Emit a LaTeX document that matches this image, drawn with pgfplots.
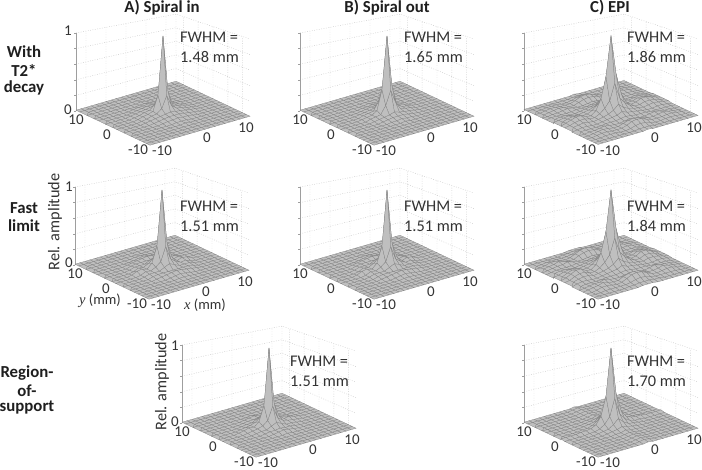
\documentclass[border=0pt]{standalone}
\usepackage{pgfplots}
\usepackage{pgfplotstable}
\pgfplotsset{compat=1.18}
\usepackage{fontspec}
\setmainfont{Carlito}
\newfontfamily\serifit{Liberation Serif}
\definecolor{txt}{gray}{0.2}
\definecolor{bld}{gray}{0.12}
\definecolor{face}{gray}{0.75}
\definecolor{edge}{gray}{0.5}
\definecolor{wall}{gray}{0.78}
\definecolor{zax}{gray}{0.62}
\newcommand\addxy[1]{%
 \pgfplotstablecreatecol[create col/expr={mod(\pgfplotstablerow,21)-10}]{xc}#1%
 \pgfplotstablecreatecol[create col/expr={floor(\pgfplotstablerow/21)-10}]{yc}#1%
}
% z values in percent of the peak, one value per grid node: x = -10..10 within y = -10..10
\pgfplotstableread[row sep=\\,header=false]{
1\\1\\1\\1\\1\\1\\1\\1\\1\\1\\1\\1\\1\\1\\1\\1\\1\\1\\1\\1\\1\\
1\\1\\1\\1\\1\\1\\1\\1\\1\\1\\1\\1\\1\\1\\1\\1\\1\\1\\1\\1\\1\\
1\\1\\1\\1\\1\\1\\1\\1\\1\\1\\1\\1\\1\\1\\1\\1\\1\\1\\1\\1\\1\\
1\\1\\1\\1\\1\\1\\1\\1\\1\\1\\1\\1\\1\\1\\1\\1\\1\\1\\1\\1\\1\\
1\\1\\1\\1\\1\\1\\1\\1\\1\\1\\2\\1\\1\\1\\1\\1\\1\\1\\1\\1\\1\\
1\\1\\1\\1\\1\\1\\1\\1\\1\\2\\2\\2\\1\\1\\1\\1\\1\\1\\1\\1\\1\\
1\\1\\1\\1\\1\\1\\1\\2\\3\\3\\4\\3\\3\\2\\1\\1\\1\\1\\1\\1\\1\\
1\\1\\1\\1\\1\\1\\2\\3\\4\\5\\5\\5\\4\\3\\2\\1\\1\\1\\1\\1\\1\\
1\\1\\1\\1\\1\\2\\3\\4\\5\\6\\7\\6\\5\\4\\3\\2\\1\\1\\1\\1\\1\\
1\\1\\1\\1\\1\\2\\3\\5\\6\\11\\26\\11\\6\\5\\3\\2\\1\\1\\1\\1\\1\\
1\\1\\1\\1\\1\\2\\4\\5\\7\\26\\100\\26\\7\\5\\4\\2\\1\\1\\1\\1\\1\\
1\\1\\1\\1\\1\\2\\3\\5\\6\\11\\26\\11\\6\\5\\3\\2\\1\\1\\1\\1\\1\\
1\\1\\1\\1\\1\\2\\3\\4\\5\\6\\7\\6\\5\\4\\3\\2\\1\\1\\1\\1\\1\\
1\\1\\1\\1\\1\\1\\2\\3\\4\\5\\5\\5\\4\\3\\2\\1\\1\\1\\1\\1\\1\\
1\\1\\1\\1\\1\\1\\1\\2\\3\\3\\4\\3\\3\\2\\1\\1\\1\\1\\1\\1\\1\\
1\\1\\1\\1\\1\\1\\1\\1\\1\\2\\2\\2\\1\\1\\1\\1\\1\\1\\1\\1\\1\\
1\\1\\1\\1\\1\\1\\1\\1\\1\\1\\2\\1\\1\\1\\1\\1\\1\\1\\1\\1\\1\\
1\\1\\1\\1\\1\\1\\1\\1\\1\\1\\1\\1\\1\\1\\1\\1\\1\\1\\1\\1\\1\\
1\\1\\1\\1\\1\\1\\1\\1\\1\\1\\1\\1\\1\\1\\1\\1\\1\\1\\1\\1\\1\\
1\\1\\1\\1\\1\\1\\1\\1\\1\\1\\1\\1\\1\\1\\1\\1\\1\\1\\1\\1\\1\\
1\\1\\1\\1\\1\\1\\1\\1\\1\\1\\1\\1\\1\\1\\1\\1\\1\\1\\1\\1\\1\\
}\tabSa
\pgfplotstableread[row sep=\\,header=false]{
1\\1\\1\\1\\1\\1\\1\\1\\1\\1\\1\\1\\1\\1\\1\\1\\1\\1\\1\\1\\1\\
1\\1\\1\\1\\1\\1\\1\\1\\1\\1\\1\\1\\1\\1\\1\\1\\1\\1\\1\\1\\1\\
1\\1\\1\\1\\1\\1\\1\\1\\1\\1\\1\\1\\1\\1\\1\\1\\1\\1\\1\\1\\1\\
1\\1\\1\\1\\1\\1\\1\\1\\1\\1\\1\\1\\1\\1\\1\\1\\1\\1\\1\\1\\1\\
1\\1\\1\\1\\1\\1\\1\\1\\1\\1\\1\\1\\1\\1\\1\\1\\1\\1\\1\\1\\1\\
1\\1\\1\\1\\1\\1\\1\\1\\1\\1\\2\\1\\1\\1\\1\\1\\1\\1\\1\\1\\1\\
1\\1\\1\\1\\1\\1\\1\\1\\2\\2\\3\\2\\2\\1\\1\\1\\1\\1\\1\\1\\1\\
1\\1\\1\\1\\1\\1\\1\\2\\3\\4\\4\\4\\3\\2\\1\\1\\1\\1\\1\\1\\1\\
1\\1\\1\\1\\1\\1\\2\\3\\4\\5\\7\\5\\4\\3\\2\\1\\1\\1\\1\\1\\1\\
1\\1\\1\\1\\1\\1\\3\\4\\5\\15\\33\\15\\5\\4\\3\\1\\1\\1\\1\\1\\1\\
1\\1\\1\\1\\1\\2\\3\\4\\8\\33\\100\\33\\8\\4\\3\\2\\1\\1\\1\\1\\1\\
1\\1\\1\\1\\1\\1\\3\\4\\5\\15\\33\\15\\5\\4\\3\\1\\1\\1\\1\\1\\1\\
1\\1\\1\\1\\1\\1\\2\\3\\4\\5\\7\\5\\4\\3\\2\\1\\1\\1\\1\\1\\1\\
1\\1\\1\\1\\1\\1\\1\\2\\3\\4\\4\\4\\3\\2\\1\\1\\1\\1\\1\\1\\1\\
1\\1\\1\\1\\1\\1\\1\\1\\2\\2\\3\\2\\2\\1\\1\\1\\1\\1\\1\\1\\1\\
1\\1\\1\\1\\1\\1\\1\\1\\1\\1\\2\\1\\1\\1\\1\\1\\1\\1\\1\\1\\1\\
1\\1\\1\\1\\1\\1\\1\\1\\1\\1\\1\\1\\1\\1\\1\\1\\1\\1\\1\\1\\1\\
1\\1\\1\\1\\1\\1\\1\\1\\1\\1\\1\\1\\1\\1\\1\\1\\1\\1\\1\\1\\1\\
1\\1\\1\\1\\1\\1\\1\\1\\1\\1\\1\\1\\1\\1\\1\\1\\1\\1\\1\\1\\1\\
1\\1\\1\\1\\1\\1\\1\\1\\1\\1\\1\\1\\1\\1\\1\\1\\1\\1\\1\\1\\1\\
1\\1\\1\\1\\1\\1\\1\\1\\1\\1\\1\\1\\1\\1\\1\\1\\1\\1\\1\\1\\1\\
}\tabSb
\pgfplotstableread[row sep=\\,header=false]{
1\\1\\1\\1\\1\\1\\1\\1\\1\\1\\1\\1\\1\\1\\1\\1\\1\\1\\1\\1\\1\\
1\\1\\1\\1\\1\\1\\1\\1\\1\\1\\1\\1\\1\\1\\1\\1\\1\\1\\1\\1\\1\\
1\\1\\1\\1\\1\\1\\1\\1\\1\\1\\1\\1\\1\\1\\1\\1\\1\\1\\1\\1\\1\\
1\\1\\1\\1\\1\\1\\1\\1\\1\\1\\1\\1\\1\\1\\1\\1\\1\\1\\1\\1\\1\\
1\\1\\1\\1\\1\\1\\1\\1\\1\\2\\2\\2\\1\\1\\1\\1\\1\\1\\1\\1\\1\\
1\\1\\1\\1\\1\\1\\1\\1\\2\\3\\4\\3\\2\\1\\1\\1\\1\\1\\1\\1\\1\\
1\\1\\1\\1\\1\\1\\2\\3\\4\\5\\6\\5\\4\\3\\2\\1\\1\\1\\1\\1\\1\\
1\\1\\1\\1\\1\\1\\3\\4\\4\\4\\4\\4\\4\\4\\3\\1\\1\\1\\1\\1\\1\\
1\\1\\1\\1\\1\\2\\4\\4\\4\\7\\10\\7\\4\\4\\4\\2\\1\\1\\1\\1\\1\\
1\\1\\1\\1\\1\\2\\5\\4\\7\\12\\30\\12\\7\\4\\5\\2\\1\\1\\1\\1\\1\\
1\\1\\1\\1\\2\\5\\6\\4\\10\\30\\100\\30\\10\\4\\6\\5\\2\\1\\1\\1\\1\\
1\\1\\1\\1\\1\\2\\5\\4\\7\\12\\30\\12\\7\\4\\5\\2\\1\\1\\1\\1\\1\\
1\\1\\1\\1\\1\\2\\4\\4\\4\\7\\10\\7\\4\\4\\4\\2\\1\\1\\1\\1\\1\\
1\\1\\1\\1\\1\\1\\3\\4\\4\\4\\4\\4\\4\\4\\3\\1\\1\\1\\1\\1\\1\\
1\\1\\1\\1\\1\\1\\2\\3\\4\\5\\6\\5\\4\\3\\2\\1\\1\\1\\1\\1\\1\\
1\\1\\1\\1\\1\\1\\1\\1\\2\\3\\4\\3\\2\\1\\1\\1\\1\\1\\1\\1\\1\\
1\\1\\1\\1\\1\\1\\1\\1\\1\\2\\2\\2\\1\\1\\1\\1\\1\\1\\1\\1\\1\\
1\\1\\1\\1\\1\\1\\1\\1\\1\\1\\1\\1\\1\\1\\1\\1\\1\\1\\1\\1\\1\\
1\\1\\1\\1\\1\\1\\1\\1\\1\\1\\1\\1\\1\\1\\1\\1\\1\\1\\1\\1\\1\\
1\\1\\1\\1\\1\\1\\1\\1\\1\\1\\1\\1\\1\\1\\1\\1\\1\\1\\1\\1\\1\\
1\\1\\1\\1\\1\\1\\1\\1\\1\\1\\1\\1\\1\\1\\1\\1\\1\\1\\1\\1\\1\\
}\tabSf
\pgfplotstableread[row sep=\\,header=false]{
1\\1\\1\\1\\1\\1\\1\\1\\1\\1\\1\\1\\1\\1\\1\\1\\1\\1\\1\\1\\1\\
1\\1\\1\\1\\1\\1\\1\\1\\1\\1\\1\\1\\1\\1\\1\\1\\1\\1\\1\\1\\1\\
1\\1\\1\\1\\1\\1\\1\\1\\1\\1\\1\\1\\1\\1\\1\\1\\1\\1\\1\\1\\1\\
1\\1\\1\\1\\1\\1\\1\\1\\1\\1\\1\\1\\1\\1\\1\\1\\1\\1\\1\\1\\1\\
1\\1\\1\\1\\1\\1\\1\\1\\1\\1\\1\\1\\1\\1\\1\\1\\1\\1\\1\\1\\1\\
1\\1\\1\\1\\1\\1\\1\\1\\1\\1\\2\\1\\1\\1\\1\\1\\1\\1\\1\\1\\1\\
1\\1\\1\\1\\1\\1\\1\\1\\2\\3\\4\\3\\2\\1\\1\\1\\1\\1\\1\\1\\1\\
1\\1\\1\\1\\1\\1\\1\\2\\3\\3\\4\\3\\3\\2\\1\\1\\1\\1\\1\\1\\1\\
1\\1\\1\\1\\1\\1\\2\\3\\3\\6\\9\\6\\3\\3\\2\\1\\1\\1\\1\\1\\1\\
1\\1\\1\\1\\1\\2\\3\\4\\6\\11\\28\\11\\6\\4\\3\\2\\1\\1\\1\\1\\1\\
1\\1\\1\\1\\2\\3\\5\\4\\9\\28\\100\\28\\9\\4\\5\\3\\2\\1\\1\\1\\1\\
1\\1\\1\\1\\1\\2\\3\\4\\6\\11\\28\\11\\6\\4\\3\\2\\1\\1\\1\\1\\1\\
1\\1\\1\\1\\1\\1\\2\\3\\3\\6\\9\\6\\3\\3\\2\\1\\1\\1\\1\\1\\1\\
1\\1\\1\\1\\1\\1\\1\\2\\3\\3\\4\\3\\3\\2\\1\\1\\1\\1\\1\\1\\1\\
1\\1\\1\\1\\1\\1\\1\\1\\2\\3\\4\\3\\2\\1\\1\\1\\1\\1\\1\\1\\1\\
1\\1\\1\\1\\1\\1\\1\\1\\1\\1\\2\\1\\1\\1\\1\\1\\1\\1\\1\\1\\1\\
1\\1\\1\\1\\1\\1\\1\\1\\1\\1\\1\\1\\1\\1\\1\\1\\1\\1\\1\\1\\1\\
1\\1\\1\\1\\1\\1\\1\\1\\1\\1\\1\\1\\1\\1\\1\\1\\1\\1\\1\\1\\1\\
1\\1\\1\\1\\1\\1\\1\\1\\1\\1\\1\\1\\1\\1\\1\\1\\1\\1\\1\\1\\1\\
1\\1\\1\\1\\1\\1\\1\\1\\1\\1\\1\\1\\1\\1\\1\\1\\1\\1\\1\\1\\1\\
1\\1\\1\\1\\1\\1\\1\\1\\1\\1\\1\\1\\1\\1\\1\\1\\1\\1\\1\\1\\1\\
}\tabSr
\pgfplotstableread[row sep=\\,header=false]{
2\\2\\2\\2\\2\\2\\2\\2\\2\\2\\3\\2\\2\\2\\2\\2\\2\\2\\2\\2\\2\\
2\\2\\2\\2\\2\\2\\2\\2\\2\\3\\3\\3\\2\\2\\2\\2\\2\\2\\2\\2\\2\\
2\\2\\2\\3\\3\\3\\2\\2\\3\\5\\6\\5\\3\\2\\2\\3\\3\\3\\2\\2\\2\\
2\\2\\3\\4\\4\\3\\3\\3\\5\\8\\9\\8\\5\\3\\3\\3\\4\\4\\3\\2\\2\\
2\\2\\3\\4\\5\\4\\3\\3\\5\\7\\8\\7\\5\\3\\3\\4\\5\\4\\3\\2\\2\\
2\\2\\3\\3\\4\\5\\4\\3\\3\\4\\5\\4\\3\\3\\4\\5\\4\\3\\3\\2\\2\\
2\\3\\3\\3\\3\\3\\4\\4\\4\\5\\6\\5\\4\\4\\4\\3\\3\\3\\3\\3\\2\\
2\\3\\4\\4\\3\\3\\4\\5\\6\\7\\10\\7\\6\\5\\4\\3\\3\\4\\4\\3\\2\\
3\\4\\5\\6\\5\\4\\5\\6\\8\\11\\17\\11\\8\\6\\5\\4\\5\\6\\5\\4\\3\\
3\\4\\6\\7\\7\\5\\5\\8\\13\\21\\42\\21\\13\\8\\5\\5\\7\\7\\6\\4\\3\\
3\\5\\7\\9\\9\\6\\5\\10\\23\\50\\100\\50\\23\\10\\5\\6\\9\\9\\7\\5\\3\\
3\\4\\6\\7\\7\\5\\5\\8\\13\\21\\42\\21\\13\\8\\5\\5\\7\\7\\6\\4\\3\\
3\\4\\5\\6\\5\\4\\5\\6\\8\\11\\17\\11\\8\\6\\5\\4\\5\\6\\5\\4\\3\\
2\\3\\4\\4\\3\\3\\4\\5\\6\\7\\10\\7\\6\\5\\4\\3\\3\\4\\4\\3\\2\\
2\\3\\3\\3\\3\\3\\4\\4\\4\\5\\6\\5\\4\\4\\4\\3\\3\\3\\3\\3\\2\\
2\\2\\3\\3\\4\\5\\4\\3\\3\\4\\5\\4\\3\\3\\4\\5\\4\\3\\3\\2\\2\\
2\\2\\3\\4\\5\\4\\3\\3\\5\\7\\8\\7\\5\\3\\3\\4\\5\\4\\3\\2\\2\\
2\\2\\3\\4\\4\\3\\3\\3\\5\\8\\9\\8\\5\\3\\3\\3\\4\\4\\3\\2\\2\\
2\\2\\2\\3\\3\\3\\2\\2\\3\\5\\6\\5\\3\\2\\2\\3\\3\\3\\2\\2\\2\\
2\\2\\2\\2\\2\\2\\2\\2\\2\\3\\3\\3\\2\\2\\2\\2\\2\\2\\2\\2\\2\\
2\\2\\2\\2\\2\\2\\2\\2\\2\\2\\3\\2\\2\\2\\2\\2\\2\\2\\2\\2\\2\\
}\tabEa
\pgfplotstableread[row sep=\\,header=false]{
1\\1\\1\\1\\1\\1\\1\\1\\1\\2\\2\\2\\1\\1\\1\\1\\1\\1\\1\\1\\1\\
1\\1\\1\\1\\1\\1\\1\\2\\2\\3\\3\\3\\2\\2\\1\\1\\1\\1\\1\\1\\1\\
1\\1\\1\\2\\2\\2\\2\\2\\3\\5\\6\\5\\3\\2\\2\\2\\2\\2\\1\\1\\1\\
1\\1\\2\\4\\4\\3\\2\\3\\6\\9\\10\\9\\6\\3\\2\\3\\4\\4\\2\\1\\1\\
1\\2\\3\\4\\6\\4\\3\\3\\6\\8\\9\\8\\6\\3\\3\\4\\6\\4\\3\\2\\1\\
1\\2\\3\\4\\4\\6\\4\\3\\3\\4\\5\\4\\3\\3\\4\\6\\4\\4\\3\\2\\1\\
1\\2\\3\\3\\3\\3\\4\\4\\4\\5\\6\\5\\4\\4\\4\\3\\3\\3\\3\\2\\1\\
1\\3\\4\\4\\3\\3\\4\\5\\6\\7\\10\\7\\6\\5\\4\\3\\3\\4\\4\\3\\1\\
2\\3\\5\\6\\6\\4\\5\\6\\8\\11\\17\\11\\8\\6\\5\\4\\6\\6\\5\\3\\2\\
2\\3\\6\\8\\8\\5\\5\\8\\13\\21\\41\\21\\13\\8\\5\\5\\8\\8\\6\\3\\2\\
2\\4\\7\\10\\10\\6\\5\\10\\23\\49\\100\\49\\23\\10\\5\\6\\10\\10\\7\\4\\2\\
2\\3\\6\\8\\8\\5\\5\\8\\13\\21\\41\\21\\13\\8\\5\\5\\8\\8\\6\\3\\2\\
2\\3\\5\\6\\6\\4\\5\\6\\8\\11\\17\\11\\8\\6\\5\\4\\6\\6\\5\\3\\2\\
1\\3\\4\\4\\3\\3\\4\\5\\6\\7\\10\\7\\6\\5\\4\\3\\3\\4\\4\\3\\1\\
1\\2\\3\\3\\3\\3\\4\\4\\4\\5\\6\\5\\4\\4\\4\\3\\3\\3\\3\\2\\1\\
1\\2\\3\\4\\4\\6\\4\\3\\3\\4\\5\\4\\3\\3\\4\\6\\4\\4\\3\\2\\1\\
1\\2\\3\\4\\6\\4\\3\\3\\6\\8\\9\\8\\6\\3\\3\\4\\6\\4\\3\\2\\1\\
1\\1\\2\\4\\4\\3\\2\\3\\6\\9\\10\\9\\6\\3\\2\\3\\4\\4\\2\\1\\1\\
1\\1\\1\\2\\2\\2\\2\\2\\3\\5\\6\\5\\3\\2\\2\\2\\2\\2\\1\\1\\1\\
1\\1\\1\\1\\1\\1\\1\\2\\2\\3\\3\\3\\2\\2\\1\\1\\1\\1\\1\\1\\1\\
1\\1\\1\\1\\1\\1\\1\\1\\1\\2\\2\\2\\1\\1\\1\\1\\1\\1\\1\\1\\1\\
}\tabEb
\pgfplotstableread[row sep=\\,header=false]{
1\\1\\1\\1\\1\\1\\1\\1\\1\\1\\2\\1\\1\\1\\1\\1\\1\\1\\1\\1\\1\\
1\\1\\1\\1\\1\\1\\1\\1\\1\\2\\3\\2\\1\\1\\1\\1\\1\\1\\1\\1\\1\\
1\\1\\1\\1\\1\\1\\1\\1\\1\\2\\3\\2\\1\\1\\1\\1\\1\\1\\1\\1\\1\\
1\\1\\1\\1\\1\\1\\1\\1\\1\\2\\3\\2\\1\\1\\1\\1\\1\\1\\1\\1\\1\\
1\\1\\1\\1\\1\\1\\1\\1\\1\\2\\3\\2\\1\\1\\1\\1\\1\\1\\1\\1\\1\\
1\\1\\1\\1\\1\\1\\1\\1\\1\\2\\3\\2\\1\\1\\1\\1\\1\\1\\1\\1\\1\\
1\\1\\1\\1\\1\\1\\1\\1\\2\\2\\4\\2\\2\\1\\1\\1\\1\\1\\1\\1\\1\\
1\\1\\1\\1\\1\\1\\1\\2\\3\\4\\6\\4\\3\\2\\1\\1\\1\\1\\1\\1\\1\\
1\\1\\1\\1\\1\\1\\2\\3\\4\\8\\14\\8\\4\\3\\2\\1\\1\\1\\1\\1\\1\\
1\\1\\1\\1\\1\\2\\2\\4\\8\\16\\38\\16\\8\\4\\2\\2\\1\\1\\1\\1\\1\\
2\\2\\2\\2\\3\\3\\4\\7\\16\\40\\100\\40\\16\\7\\4\\3\\3\\2\\2\\2\\2\\
1\\1\\1\\1\\1\\2\\2\\4\\8\\16\\38\\16\\8\\4\\2\\2\\1\\1\\1\\1\\1\\
1\\1\\1\\1\\1\\1\\2\\3\\4\\8\\14\\8\\4\\3\\2\\1\\1\\1\\1\\1\\1\\
1\\1\\1\\1\\1\\1\\1\\2\\3\\4\\6\\4\\3\\2\\1\\1\\1\\1\\1\\1\\1\\
1\\1\\1\\1\\1\\1\\1\\1\\2\\2\\4\\2\\2\\1\\1\\1\\1\\1\\1\\1\\1\\
1\\1\\1\\1\\1\\1\\1\\1\\1\\2\\3\\2\\1\\1\\1\\1\\1\\1\\1\\1\\1\\
1\\1\\1\\1\\1\\1\\1\\1\\1\\2\\3\\2\\1\\1\\1\\1\\1\\1\\1\\1\\1\\
1\\1\\1\\1\\1\\1\\1\\1\\1\\2\\3\\2\\1\\1\\1\\1\\1\\1\\1\\1\\1\\
1\\1\\1\\1\\1\\1\\1\\1\\1\\2\\3\\2\\1\\1\\1\\1\\1\\1\\1\\1\\1\\
1\\1\\1\\1\\1\\1\\1\\1\\1\\2\\3\\2\\1\\1\\1\\1\\1\\1\\1\\1\\1\\
1\\1\\1\\1\\1\\1\\1\\1\\1\\1\\2\\1\\1\\1\\1\\1\\1\\1\\1\\1\\1\\
}\tabEc
\addxy\tabSa \addxy\tabSb \addxy\tabSf \addxy\tabSr \addxy\tabEa \addxy\tabEb \addxy\tabEc
\newcommand\walls{%
 \draw[wall,line width=.45pt,dash pattern=on .8pt off 1.6pt]
  (axis cs:-10,10,20)--(axis cs:10,10,17.4)--(axis cs:10,-10,20)
  (axis cs:-10,10,40)--(axis cs:10,10,34.8)--(axis cs:10,-10,40)
  (axis cs:-10,10,60)--(axis cs:10,10,52.2)--(axis cs:10,-10,60)
  (axis cs:-10,10,80)--(axis cs:10,10,69.6)--(axis cs:10,-10,80)
  (axis cs:-10,10,100)--(axis cs:10,10,87)--(axis cs:10,-10,100)
  (axis cs:-8,10,0)--(axis cs:-8,10,98.7) (axis cs:-4,10,0)--(axis cs:-4,10,96.1)
  (axis cs:0,10,0)--(axis cs:0,10,93.5) (axis cs:4,10,0)--(axis cs:4,10,90.9)
  (axis cs:8,10,0)--(axis cs:8,10,88.3) (axis cs:10,10,0)--(axis cs:10,10,87)
  (axis cs:10,8,0)--(axis cs:10,8,88.3) (axis cs:10,4,0)--(axis cs:10,4,90.9)
  (axis cs:10,0,0)--(axis cs:10,0,93.5) (axis cs:10,-4,0)--(axis cs:10,-4,96.1)
  (axis cs:10,-8,0)--(axis cs:10,-8,98.7);
 \draw[zax,line width=.5pt] (axis cs:-10,10,0)--(axis cs:-10,10,100)
  (axis cs:-10,10,0)--+(-2pt,0pt) (axis cs:-10,10,20)--+(-2pt,0pt)
  (axis cs:-10,10,40)--+(-2pt,0pt) (axis cs:-10,10,60)--+(-2pt,0pt)
  (axis cs:-10,10,80)--+(-2pt,0pt) (axis cs:-10,10,100)--+(-2pt,0pt);
}
% cx, cy (centre of the base, in px), table
\newcommand\panel[3]{%
 \begin{axis}[at={(#1pt,-#2pt)},anchor=origin,hide axis,clip=false,
   x={(5pt,1.45pt)},y={(-3.7pt,1.75pt)},z={(0pt,0.78pt)},
   xmin=-10,xmax=10,ymin=-10,ymax=10,zmin=0,zmax=100,
   colormap={flatgray}{color(0cm)=(face); color(1cm)=(face)}]
  \walls
  \addplot3[surf,shader=faceted,faceted color=edge,line width=.25pt,z buffer=sort,
    mesh/rows=21,mesh/cols=21]
    table[x=xc,y=yc,z index=0]{#3};
 \end{axis}
 \begin{scope}[shift={(#1pt,-#2pt)},every node/.style={text=txt,font=\fontsize{15}{15}\selectfont,inner sep=0pt}]
  \node at (-87pt,-6pt) {10};
  \node at (-56pt,-21pt) {0};
  \node at (-25pt,-36pt) {-10};
  \node at (-1pt,-37pt) {-10};
  \node at (44pt,-24pt) {0};
  \node at (83pt,-14pt) {10};
 \end{scope}
}
\newcommand\fwhm[3]{%
 \node[anchor=west,text=txt,inner sep=0pt,font=\fontsize{16.3}{16.3}\selectfont] at (#1pt,-#2pt) {FWHM =};
 \node[anchor=west,text=txt,inner sep=0pt,font=\fontsize{16.3}{16.3}\selectfont] at (#1pt,-#2pt-20pt) {#3 mm};
}
\newcommand\head[3]{\node[text=bld,inner sep=0pt,font=\fontsize{16.8}{16.8}\selectfont\bfseries] at (#1pt,-#2pt) {#3};}
\newcommand\tk[3]{\node[text=txt,inner sep=0pt,font=\fontsize{15}{15}\selectfont] at (#1pt,-#2pt) {#3};}
\begin{document}
\begin{tikzpicture}
 \useasboundingbox (0pt,0pt) rectangle (702pt,-469pt);
 \panel{163}{114}{\tabSa}
 \panel{387}{114}{\tabSb}
 \panel{611}{114}{\tabEa}
 \panel{162}{268}{\tabSf}
 \panel{387}{268}{\tabSf}
 \panel{611}{268}{\tabEb}
 \panel{269}{426}{\tabSr}
 \panel{611}{426}{\tabEc}
 \head{162}{8}{A) Spiral in}
 \head{387}{8}{B) Spiral out}
 \head{610}{8}{C) EPI}
 \head{24}{52}{With}
 \head{24}{70}{T2*}
 \head{24}{88}{decay}
 \head{24}{208}{Fast}
 \head{24}{226}{limit}
 \head{27}{373}{Region-}
 \head{27}{391}{of-}
 \head{27}{408}{support}
 \fwhm{180}{37}{1.48}
 \fwhm{404}{37}{1.65}
 \fwhm{627}{37}{1.86}
 \fwhm{180}{206}{1.51}
 \fwhm{404}{206}{1.51}
 \fwhm{627}{206}{1.84}
 \fwhm{290}{361}{1.51}
 \fwhm{627}{361}{1.70}
 \tk{68}{31}{1}
 \tk{68}{110}{0}
 \tk{69}{187}{1}
 \tk{69}{263}{0}
 \tk{175}{346}{1}
 \tk{175}{422}{0}
 \node[text=txt,inner sep=0pt,rotate=90,font=\fontsize{16.3}{16.3}\selectfont] at (55pt,-222pt) {Rel. amplitude};
 \node[text=txt,inner sep=0pt,rotate=90,font=\fontsize{16.3}{16.3}\selectfont] at (162pt,-382pt) {Rel. amplitude};
 \node[text=txt,inner sep=0pt,font=\fontsize{14.5}{14.5}\selectfont] at (100pt,-301pt) {{\serifit\itshape y} (mm)};
 \node[text=txt,inner sep=0pt,font=\fontsize{14.5}{14.5}\selectfont] at (205pt,-305pt) {{\serifit\itshape x} (mm)};
\end{tikzpicture}
\end{document}
